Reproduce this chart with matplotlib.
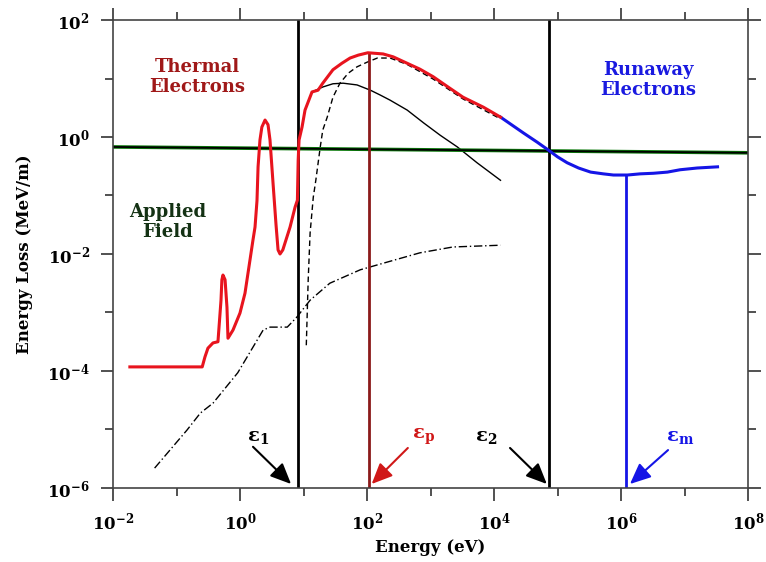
import numpy as np
import matplotlib
matplotlib.use('Agg')
import matplotlib.pyplot as plt
from matplotlib.ticker import FixedLocator, FixedFormatter

plt.rcParams['font.family'] = 'DejaVu Serif'
plt.rcParams['mathtext.fontset'] = 'dejavuserif'

# values, as log10(energy / eV) and log10(loss / MeV/m)
thermal_x = [-1.74, -0.60, -0.557, -0.51, -0.43, -0.352, -0.304, -0.29, -0.273, -0.24,
             -0.21, -0.194, -0.115, -0.005, 0.074, 0.153, 0.20, 0.232, 0.263, 0.28,
             0.31, 0.34, 0.39, 0.437, 0.468, 0.516, 0.563, 0.595, 0.626, 0.67,
             0.784, 0.863, 0.90, 0.912, 0.926, 0.973, 1.02, 1.13,
             1.225, 1.30, 1.46, 1.60, 1.73, 1.86, 2.01, 2.25, 2.41, 2.63,
             2.83, 3.04, 3.28, 3.51, 3.83, 4.10]
thermal_y = [-3.93, -3.93, -3.76, -3.61, -3.52, -3.50, -2.79, -2.44, -2.36, -2.44,
             -2.91, -3.44, -3.30, -3.01, -2.67, -2.10, -1.76, -1.54, -1.09, -0.51,
             -0.05, 0.17, 0.29, 0.21, -0.05, -0.79, -1.50, -1.93, -2.00, -1.93,
             -1.54, -1.20, -1.08, -0.40, -0.05, 0.17, 0.46, 0.77,
             0.80, 0.92, 1.15, 1.26, 1.35, 1.40, 1.44, 1.42, 1.37, 1.26,
             1.16, 1.03, 0.85, 0.68, 0.51, 0.34]

knee = thermal_x.index(1.13) + 1
bound_x = thermal_x[:knee] + [1.30, 1.46, 1.62, 1.84, 2.05, 2.20, 2.36, 2.63, 2.89, 3.15, 3.42, 3.73, 4.10]
bound_y = thermal_y[:knee] + [0.855, 0.91, 0.92, 0.89, 0.80, 0.72, 0.63, 0.46, 0.24, 0.03, -0.17, -0.44, -0.74]

free_x = [1.04, 1.07, 1.10, 1.15, 1.19, 1.26, 1.30, 1.37, 1.46, 1.57, 1.70, 1.84, 2.00,
          2.16, 2.36, 2.63, 3.04, 3.51, 4.10]
free_y = [-3.56, -2.44, -1.64, -1.03, -0.74, -0.17, 0.12, 0.34, 0.68, 0.92, 1.09, 1.20, 1.28,
          1.35, 1.35, 1.24, 0.99, 0.65, 0.31]

dd_x = [-1.35, -0.84, -0.63, -0.43, -0.04, 0.36, 0.47, 0.74, 0.89, 1.10, 1.41, 1.89, 2.31, 2.83, 3.35, 4.10]
dd_y = [-5.66, -5.01, -4.72, -4.55, -4.03, -3.30, -3.25, -3.25, -3.08, -2.79, -2.50, -2.27, -2.14, -1.98, -1.88, -1.85]

runaway_x = [4.10, 4.30, 4.46, 4.68, 4.85, 5.00, 5.15, 5.33, 5.52, 5.72, 5.88, 6.10,
             6.30, 6.51, 6.73, 6.93, 7.20, 7.52]
runaway_y = [0.34, 0.19, 0.07, -0.09, -0.22, -0.34, -0.44, -0.53, -0.60, -0.63, -0.65, -0.65,
             -0.63, -0.62, -0.60, -0.56, -0.53, -0.51]

field_x = [-2.0, 8.0]
field_y = [-0.17, -0.27]

eps1, eps_p, eps2, eps_m = 0.91, 2.03, 4.87, 6.08
eps_p_top, eps_m_top = 1.44, -0.65

x_ticks = list(range(-2, 9))
y_ticks = list(range(-6, 3))


def p(v):
    return 10.0 ** np.array(v)


fig = plt.figure(figsize=(7.66, 5.62), dpi=100)
ax = fig.add_axes([0.148, 0.1317, 0.8285, 0.8327])
ax.set_xscale('log')
ax.set_yscale('log')
ax.set_xlim(1e-2, 1e8)
ax.set_ylim(1e-6, 1e2)

ax.plot(p(dd_x), p(dd_y), color='black', lw=1.0, ls=(0, (6, 2, 1, 2)))
ax.plot(p(bound_x), p(bound_y), color='black', lw=1.0)
ax.plot(p(free_x), p(free_y), color='black', lw=1.0, ls=(0, (4, 2.5)))
ax.plot(p(field_x), p(field_y), color='#0b7a0b', lw=2.6)
ax.plot(p(field_x), p(field_y), color='black', lw=1.3)

ax.plot(p([eps1, eps1]), [1e-6, 1e2], color='black', lw=2)
ax.plot(p([eps2, eps2]), [1e-6, 1e2], color='black', lw=2)
ax.plot(p([eps_p, eps_p]), p([-6, eps_p_top]), color='#8b1a1a', lw=2)
ax.plot(p([eps_m, eps_m]), p([-6, eps_m_top]), color='#1515e6', lw=2)

ax.plot(p(runaway_x), p(runaway_y), color='#1515e6', lw=2.2)
ax.plot(p(thermal_x), p(thermal_y), color='#e8141e', lw=2.2)

# ticks: every decade, labels every second decade
ax.xaxis.set_major_locator(FixedLocator(p(x_ticks[::2])))
ax.xaxis.set_minor_locator(FixedLocator(p(x_ticks[1::2])))
ax.xaxis.set_major_formatter(FixedFormatter([r'$\mathbf{10^{%d}}$' % e for e in x_ticks[::2]]))
ax.xaxis.set_minor_formatter(FixedFormatter([]))
ax.yaxis.set_major_locator(FixedLocator(p(y_ticks[::2])))
ax.yaxis.set_minor_locator(FixedLocator(p(y_ticks[1::2])))
ax.yaxis.set_major_formatter(FixedFormatter([r'$\mathbf{10^{%d}}$' % e for e in y_ticks[::2]]))
ax.yaxis.set_minor_formatter(FixedFormatter([]))
ax.tick_params(which='both', direction='out', top=True, right=True, color='#333333')
ax.tick_params(which='major', length=9, width=1.2, labelsize=12, pad=8)
ax.tick_params(which='minor', length=6, width=1.2)
for s in ax.spines.values():
    s.set_color('#444444')
    s.set_linewidth(1.2)

ax.set_xlabel('Energy (eV)', fontsize=12, fontweight='bold', labelpad=4)
ax.set_ylabel('Energy Loss (MeV/m)', fontsize=12, fontweight='bold', labelpad=10)

ax.text(0.132, 0.878, 'Thermal\nElectrons', transform=ax.transAxes, ha='center', va='center',
        color='#a01818', fontsize=13, fontweight='bold', linespacing=1.15)
ax.text(0.843, 0.872, 'Runaway\nElectrons', transform=ax.transAxes, ha='center', va='center',
        color='#1a1ae0', fontsize=13, fontweight='bold', linespacing=1.15)
ax.text(0.086, 0.568, 'Applied\nField', transform=ax.transAxes, ha='center', va='center',
        color='#143214', fontsize=13, fontweight='bold', linespacing=1.15)

labels = [(0.228, r'$\mathbf{\varepsilon_1}$', 'black', (0.220, 0.088), (0.280, 0.0085)),
          (0.488, r'$\mathbf{\varepsilon_p}$', '#d01818', (0.464, 0.0855), (0.407, 0.0085)),
          (0.587, r'$\mathbf{\varepsilon_2}$', 'black', (0.625, 0.0855), (0.683, 0.0085)),
          (0.893, r'$\mathbf{\varepsilon_m}$', '#1515e6', (0.874, 0.081), (0.814, 0.0085))]
for xl, txt, col, start, end in labels:
    ax.text(xl, 0.109, txt, transform=ax.transAxes, ha='center', va='center',
            color=col, fontsize=14)
    ax.annotate('', xy=end, xytext=start, xycoords='axes fraction', textcoords='axes fraction',
                arrowprops=dict(arrowstyle='-|>,head_length=0.9,head_width=0.4', color=col,
                                lw=1.5, mutation_scale=14, shrinkA=0, shrinkB=0))

fig.savefig('out.png', dpi=100)
